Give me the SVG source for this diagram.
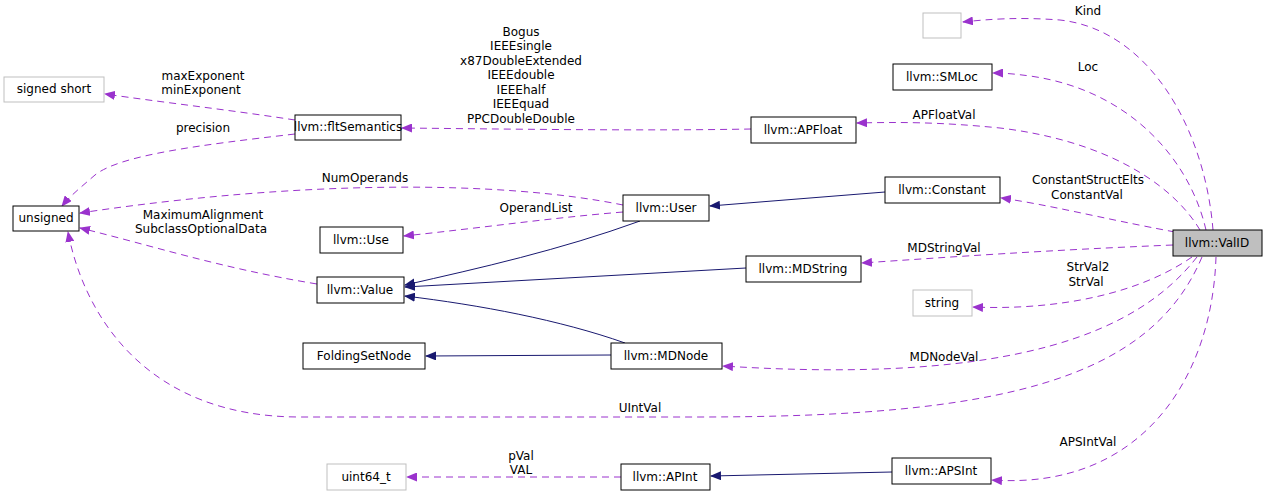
<svg xmlns="http://www.w3.org/2000/svg" width="1267" height="497" viewBox="0 0 1267 497">
<style>
text{font-family:"DejaVu Sans",sans-serif;font-size:12px;fill:#000}
.n rect{fill:#fff;stroke:#000;stroke-width:1}
.g rect{fill:#fff;stroke:#bfbfbf;stroke-width:1}
.m{fill:none;stroke:#9a32cd;stroke-dasharray:7,5;stroke-width:1}
.i{fill:none;stroke:#191970;stroke-width:1}
</style>
<defs>
<marker id="pa" markerWidth="11" markerHeight="9" refX="10" refY="4.5" orient="auto" markerUnits="userSpaceOnUse"><path d="M0,0L11,4.5L0,9z" fill="#9a32cd"/></marker>
<marker id="na" markerWidth="11" markerHeight="9" refX="10" refY="4.5" orient="auto" markerUnits="userSpaceOnUse"><path d="M0,0L11,4.5L0,9z" fill="#191970"/></marker>
</defs>
<rect width="1267" height="497" fill="#fff"/>
<g id="edges">
<path class="m" marker-end="url(#pa)" d="M1213,230 C1205,130 1150,30 1060,20 C1020,17 990,19 963,22"/>
<path class="m" marker-end="url(#pa)" d="M1206,230 C1190,160 1130,90 1030,76 C1015,74 1005,73 993,73"/>
<path class="m" marker-end="url(#pa)" d="M1200,230 C1170,180 1100,140 1000,128 C940,122 900,122 857,123"/>
<path class="m" marker-end="url(#pa)" d="M1175,232 C1100,218 1050,205 1001,198"/>
<path class="m" marker-end="url(#pa)" d="M1173,245 C1050,250 950,257 862,263"/>
<path class="m" marker-end="url(#pa)" d="M1192,257 C1130,300 1040,310 973,307"/>
<path class="m" marker-end="url(#pa)" d="M1197,257 C1140,330 1020,385 723,366"/>
<path class="m" marker-end="url(#pa)" d="M1202,257 C1150,380 1000,417 700,417 L300,417 C150,417 85,320 68,232"/>
<path class="m" marker-end="url(#pa)" d="M1216,257 C1212,380 1140,490 992,480"/>
<path class="m" marker-end="url(#pa)" d="M751,129 C650,131 500,129 402,128"/>
<path class="m" marker-end="url(#pa)" d="M295,120 C230,110 160,102 105,94"/>
<path class="m" marker-end="url(#pa)" d="M295,134 C200,145 120,155 95,175 C80,188 70,196 62,206"/>
<path class="m" marker-end="url(#pa)" d="M623,205 C500,180 300,180 80,213"/>
<path class="m" marker-end="url(#pa)" d="M623,212 C550,218 480,228 404,236"/>
<path class="m" marker-end="url(#pa)" d="M317,284 C220,268 150,245 80,228"/>
<path class="m" marker-end="url(#pa)" d="M621,477 L407,477"/>
<path class="i" marker-end="url(#na)" d="M885,192 L710,206"/>
<path class="i" marker-end="url(#na)" d="M640,221 C560,250 480,268 405,285"/>
<path class="i" marker-end="url(#na)" d="M746,268 L405,287"/>
<path class="i" marker-end="url(#na)" d="M625,343 C560,320 480,305 405,296"/>
<path class="i" marker-end="url(#na)" d="M611,355 L426,356"/>
<path class="i" marker-end="url(#na)" d="M892,472 L711,476"/>
</g>
<g id="labels">
<text x="1088" y="15" text-anchor="middle">Kind</text>
<text x="1088" y="71" text-anchor="middle">Loc</text>
<text x="944" y="119" text-anchor="middle">APFloatVal</text>
<text x="1088" y="184" text-anchor="middle">ConstantStructElts</text>
<text x="1087" y="199" text-anchor="middle">ConstantVal</text>
<text x="944" y="252" text-anchor="middle">MDStringVal</text>
<text x="1088" y="271" text-anchor="middle">StrVal2</text>
<text x="1086" y="286" text-anchor="middle">StrVal</text>
<text x="944" y="361" text-anchor="middle">MDNodeVal</text>
<text x="640" y="412" text-anchor="middle">UIntVal</text>
<text x="1088" y="446" text-anchor="middle">APSIntVal</text>
<text x="521" y="36" text-anchor="middle">Bogus</text>
<text x="521" y="50" text-anchor="middle">IEEEsingle</text>
<text x="521" y="65" text-anchor="middle">x87DoubleExtended</text>
<text x="521" y="79" text-anchor="middle">IEEEdouble</text>
<text x="521" y="94" text-anchor="middle">IEEEhalf</text>
<text x="521" y="108" text-anchor="middle">IEEEquad</text>
<text x="521" y="123" text-anchor="middle">PPCDoubleDouble</text>
<text x="203" y="80" text-anchor="middle">maxExponent</text>
<text x="201" y="94" text-anchor="middle">minExponent</text>
<text x="203" y="132" text-anchor="middle">precision</text>
<text x="365" y="182" text-anchor="middle">NumOperands</text>
<text x="536" y="212" text-anchor="middle">OperandList</text>
<text x="203" y="219" text-anchor="middle">MaximumAlignment</text>
<text x="201" y="233" text-anchor="middle">SubclassOptionalData</text>
<text x="521" y="460" text-anchor="middle">pVal</text>
<text x="521" y="474" text-anchor="middle">VAL</text>
</g>
<g id="n_blank" class="g"><rect x="923" y="13" width="38" height="25"/></g>
<g id="n_smloc" class="n"><rect x="893" y="64" width="99" height="26"/><text x="942" y="81" text-anchor="middle">llvm::SMLoc</text></g>
<g id="n_apfloat" class="n"><rect x="751" y="117" width="105" height="26"/><text x="803" y="134" text-anchor="middle">llvm::APFloat</text></g>
<g id="n_constant" class="n"><rect x="885" y="177" width="115" height="26"/><text x="942" y="194" text-anchor="middle">llvm::Constant</text></g>
<g id="n_valid"><rect x="1173" y="230" width="89" height="26" fill="#bfbfbf" stroke="#000"/><text x="1217" y="247" text-anchor="middle">llvm::ValID</text></g>
<g id="n_mdstring" class="n"><rect x="746" y="256" width="115" height="26"/><text x="803" y="273" text-anchor="middle">llvm::MDString</text></g>
<g id="n_string" class="g"><rect x="913" y="290" width="59" height="26"/><text x="942" y="307" text-anchor="middle">string</text></g>
<g id="n_signedshort" class="g"><rect x="4" y="77" width="100" height="25"/><text x="54" y="93" text-anchor="middle">signed short</text></g>
<g id="n_flt" class="n"><rect x="295" y="115" width="106" height="25"/><text x="348" y="131" text-anchor="middle">llvm::fltSemantics</text></g>
<g id="n_unsigned" class="n"><rect x="13" y="206" width="66" height="25"/><text x="46" y="222" text-anchor="middle">unsigned</text></g>
<g id="n_user" class="n"><rect x="623" y="195" width="86" height="26"/><text x="666" y="212" text-anchor="middle">llvm::User</text></g>
<g id="n_use" class="n"><rect x="320" y="227" width="83" height="26"/><text x="361" y="244" text-anchor="middle">llvm::Use</text></g>
<g id="n_value" class="n"><rect x="317" y="277" width="87" height="26"/><text x="360" y="294" text-anchor="middle">llvm::Value</text></g>
<g id="n_fsn" class="n"><rect x="303" y="343" width="122" height="26"/><text x="364" y="360" text-anchor="middle">FoldingSetNode</text></g>
<g id="n_mdnode" class="n"><rect x="611" y="343" width="111" height="26"/><text x="666" y="360" text-anchor="middle">llvm::MDNode</text></g>
<g id="n_uint64" class="g"><rect x="327" y="464" width="79" height="26"/><text x="366" y="481" text-anchor="middle">uint64_t</text></g>
<g id="n_apint" class="n"><rect x="621" y="464" width="89" height="26"/><text x="665" y="481" text-anchor="middle">llvm::APInt</text></g>
<g id="n_apsint" class="n"><rect x="892" y="458" width="99" height="26"/><text x="941" y="475" text-anchor="middle">llvm::APSInt</text></g>
</svg>
